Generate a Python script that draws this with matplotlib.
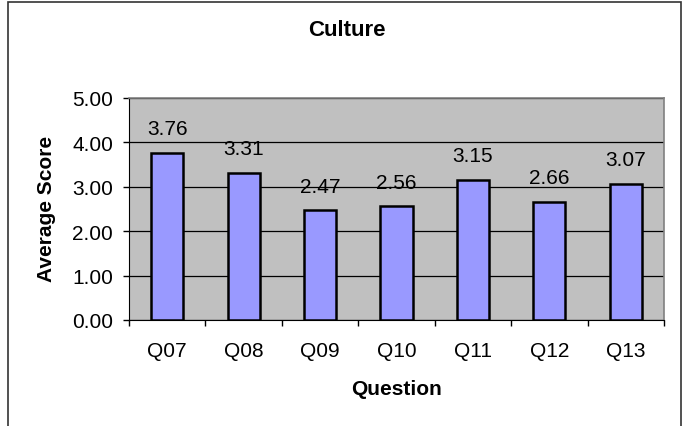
import matplotlib
matplotlib.use("Agg")
import matplotlib.pyplot as plt
from matplotlib.patches import Rectangle

# Daten
questions = ["Q07", "Q08", "Q09", "Q10", "Q11", "Q12", "Q13"]
scores = [3.76, 3.31, 2.47, 2.56, 3.15, 2.66, 3.07]

plt.rcParams['font.family'] = ['Liberation Sans', 'DejaVu Sans']
fs = 15

fig = plt.figure(figsize=(6.88, 4.27), dpi=100)
ax = fig.add_axes([129 / 688, 1 - 321 / 427, 535 / 688, 222 / 427])

# Rahmen um das ganze Diagramm
fig.patches.append(Rectangle((8 / 688, -0.02), 673 / 688, 1 - 3 / 427 + 0.02,
                             transform=fig.transFigure, fill=False,
                             edgecolor='#333333', linewidth=1.2))

ax.set_facecolor('#C0C0C0')
x = range(len(questions))
ax.bar(x, scores, width=0.42, color='#9999FF', edgecolor='black',
       linewidth=1.8, zorder=3)

# Werte über den Balken
for xi, v in zip(x, scores):
    ax.annotate(f"{v:.2f}", (xi, v), xytext=(0, 17.5), textcoords='offset points',
                ha='center', va='center', fontsize=fs)

ax.set_xlim(-0.5, len(questions) - 0.5)
ax.set_ylim(0, 5)
ax.set_yticks([0, 1, 2, 3, 4, 5])
ax.set_yticklabels([f"{t:.2f}" for t in range(6)], fontsize=fs)
ax.set_xticks([i - 0.5 for i in range(len(questions) + 1)])
ax.set_xticklabels([])
ax.set_xticks(list(x), minor=True)
ax.set_xticklabels(questions, minor=True, fontsize=fs)
ax.tick_params(axis='x', which='minor', length=0, pad=15)
ax.tick_params(axis='x', which='major', length=4.5, direction='out', width=1)
ax.tick_params(axis='y', length=4.5, direction='out', width=1, pad=7)
ax.yaxis.grid(True, color='black', linewidth=0.9, zorder=1)
ax.set_axisbelow(True)

for side in ['top', 'right']:
    ax.spines[side].set_color('#808080')
    ax.spines[side].set_linewidth(1.2)
ax.spines['left'].set_color('black')
ax.spines['bottom'].set_color('black')

ax.set_xlabel("Question", fontsize=fs, fontweight='bold', labelpad=14)
fig.text(47 / 688, 1 - 209 / 427, "Average Score", rotation=90, ha='center',
         va='center', fontsize=fs, fontweight='bold')
fig.text(347 / 688, 1 - 30 / 427, "Culture", ha='center', va='center',
         fontsize=16, fontweight='bold')

fig.savefig("out.png", dpi=100)
